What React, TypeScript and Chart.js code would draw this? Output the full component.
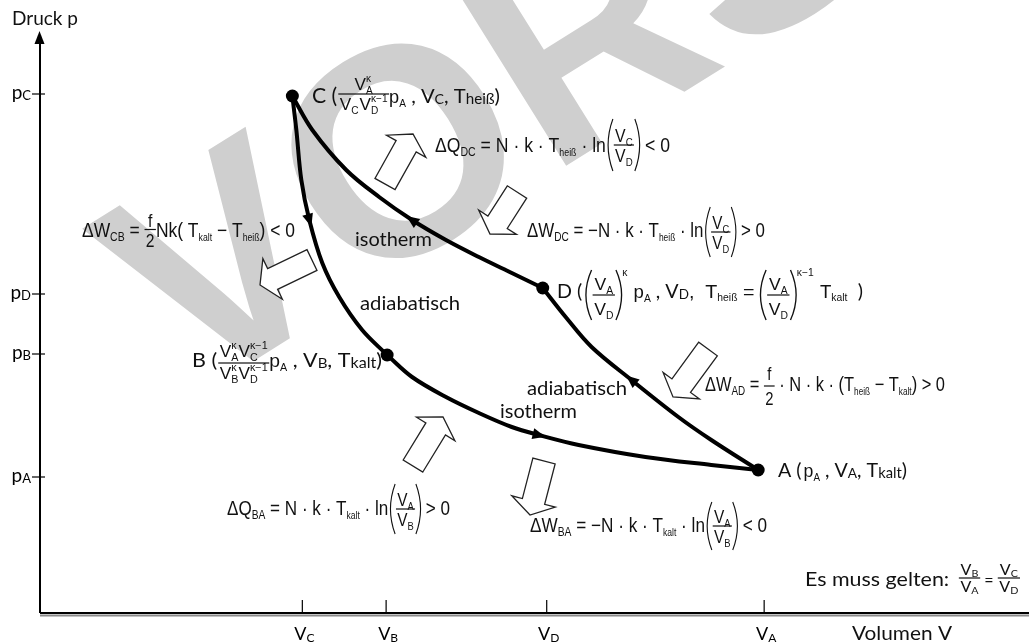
import React, { useEffect, useRef } from "react";
import { Chart, registerables } from "chart.js";

Chart.register(...registerables);

// ---------------- data (arbitrary units) ----------------
const volumeTickNames = ["C", "B", "D", "A"];
const volumeTickValues = [26.3, 34.7, 50.8, 72.6];
const pressureTickNames = ["C", "D", "B", "A"];
const pressureTickValues = [51.9, 31.9, 25.9, 13.6];

const stateNames = ["A", "B", "C", "D"];
const stateVolume = [72.0, 34.8, 25.3, 50.4];
const statePressure = [14.3, 25.8, 51.7, 32.5];

// isotherm T_heiß : C – D
const hotIsothermV = [25.3, 27.3, 30.7, 34.0, 37.3, 40.7, 44.0, 47.3, 50.4];
const hotIsothermP = [51.7, 48.3, 44.3, 41.6, 39.3, 37.3, 35.6, 34.0, 32.5];
// adiabat C – B
const adiabatCBV = [25.3, 25.7, 26.2, 27.0, 28.3, 30.0, 32.3, 34.8];
const adiabatCBP = [51.7, 48.3, 43.3, 39.3, 35.0, 31.6, 28.3, 25.8];
// isotherm T_kalt : B – A
const coldIsothermV = [34.8, 37.3, 40.7, 44.0, 47.3, 50.0, 54.0, 60.7, 67.3, 72.0];
const coldIsothermP = [25.8, 23.6, 21.6, 20.0, 18.6, 17.8, 16.8, 15.6, 14.8, 14.3];
// adiabat D – A
const adiabatDAV = [50.4, 52.7, 55.3, 59.3, 64.0, 67.3, 72.0];
const adiabatDAP = [32.5, 29.6, 26.6, 23.3, 19.6, 17.3, 14.3];

// direction markers: curve index, point index, step toward next point
const flowCurve = [1, 0, 3, 2];
const flowPoint = [3, 4, 3, 5];
const flowStep = [1, -1, -1, 1];

const WATERMARK = "VORSCHAU";

// ---------------- styles / layout ----------------
const FA = '"Liberation Sans", Arial, sans-serif';
const FC = 'Lato, "Open Sans", sans-serif';

const t = (text: string, s = 20, f = FA, dy = 0) => ({ k: "t", t: text, s, f, dy });
const sb = (text: string, s = 11, dy = 4, f = FA) => ({ k: "t", t: text, s, f, dy });
const sp = (w: number) => ({ k: "sp", w });
const ss = (sup: any[], sub: any[]) => ({ k: "ss", sup, sub });
const fr = (n: any[], d: any[], axis: number, nb: number, db: number) => ({ k: "fr", n, d, axis, nb, db });
const pa = (side: string, h: number, axis: number, w = 7) => ({ k: "pa", side, h, axis, w });

const lnFrac = (a: string, b: string, axis: number, h: number) => [
  t(" · ln", 20),
  sp(2),
  pa("(", h, axis),
  fr([t("V", 18), sb(a, 11, 4)], [t("V", 18), sb(b, 11, 4)], axis, -3, 17),
  pa(")", h, axis),
];

const dQDC = [t("ΔQ"), sb("DC", 12, 4), t(" = N · k · T"), sb("heiß", 10, 4), ...lnFrac("C", "D", 7, 26), t(" < 0")];
const dWDC = [t("ΔW"), sb("DC", 12, 4), t(" = −N · k · T"), sb("heiß", 10, 4), ...lnFrac("C", "D", 5, 25), t(" > 0")];
const dWCB = [
  t("ΔW"), sb("CB", 12, 4), t(" = "),
  fr([t("f", 18)], [t("2", 18)], 7.5, -2.5, 17.5),
  t("Nk( T"), sb("kalt", 10, 4), t(" − T"), sb("heiß", 10, 4), t(") < 0"),
];
const dWAD = [
  t("ΔW"), sb("AD", 12, 4), t(" = "),
  fr([t("f", 18)], [t("2", 18)], 5, -6, 19),
  t(" · N · k · (T"), sb("heiß", 10, 4), t(" − T"), sb("kalt", 10, 4), t(") > 0"),
];
const dQBA = [t("ΔQ"), sb("BA", 12, 4), t(" = N · k · T"), sb("kalt", 10, 4), ...lnFrac("A", "B", 6, 25), t(" > 0")];
const dWBA = [t("ΔW"), sb("BA", 12, 4), t(" = −N · k · T"), sb("kalt", 10, 4), ...lnFrac("A", "B", 6, 24), t(" < 0")];

const kap = (sub: string, sup = "κ") => ss([t(sup, 10, FA, -8)], [t(sub, 10, FA, 4)]);

const labelC = [
  t("C (", 21, FC), sp(1),
  fr([t("V", 17), kap("A")], [t("V", 17), sb("C", 10, 4), sp(1), t("V", 17), kap("D", "κ−1")], 9, -4, 16),
  t("p", 18), sb("A", 10, 4), t(" , V", 20, FC), t("C", 14, FC, 1), t(", T", 20, FC), t("heiß", 15, FC, 1), t(")", 20, FC),
];
const vaOverVd = () => fr([t("V", 17), sb("A", 10, 4)], [t("V", 17), sb("D", 10, 4)], 3, -5, 20);
const labelD = [
  t("D (", 19, FC), sp(3),
  pa("(", 25, 3), vaOverVd(), pa(")", 25, 3), t("κ", 10, FA, -22), sp(6),
  t("p", 18), sb("A", 10, 4), t(" , V", 19, FC), t("D", 13, FC, 1), t(",  T", 19, FA), sb("heiß", 10, 3), t(" = ", 19),
  pa("(", 25, 3), vaOverVd(), pa(")", 25, 3), t("κ−1", 10, FA, -22), sp(6),
  t("T", 18), sb("kalt", 10, 3), sp(10), t(")", 19, FC),
];
const labelB = [
  t("B (", 20, FC), sp(1),
  fr(
    [t("V", 16), kap("A"), t("V", 16), kap("C", "κ−1")],
    [t("V", 16), kap("B"), t("V", 16), kap("D", "κ−1")],
    4, -6, 16
  ),
  t("p", 18), sb("A", 10, 4), t(" , V", 20, FC), t("B", 14, FC, 1), t(", T", 20, FC), t("kalt", 15, FC, 1), t(")", 20, FC),
];
const labelA = [
  t("A (", 20, FC), sp(2), t("p", 18), sb("A", 10, 4), t(" , V", 20, FC), t("A", 14, FC, 1), t(", T", 20, FC), t("kalt", 15, FC, 1), t(")", 20, FC),
];
const condition = [
  t("Es muss gelten:", 20, FC), sp(9),
  fr([t("V", 15, FC), t("B", 10, FC, 2)], [t("V", 15, FC), t("A", 10, FC, 2)], 8, -3, 14),
  t(" = ", 15, FC),
  fr([t("V", 15, FC), t("C", 10, FC, 2)], [t("V", 15, FC), t("D", 10, FC, 2)], 8, -3, 14),
];

const textBlocks = [
  { x0: 435, x1: 670, y: 152, nodes: dQDC },
  { x0: 527, x1: 765, y: 237, nodes: dWDC },
  { x0: 82, x1: 295, y: 237, nodes: dWCB },
  { x0: 705, x1: 945, y: 391, nodes: dWAD },
  { x0: 227, x1: 450, y: 515, nodes: dQBA },
  { x0: 530, x1: 767, y: 532, nodes: dWBA },
  { x0: 312, x1: 500, y: 103, nodes: labelC },
  { x0: 557, x1: 863, y: 298, nodes: labelD },
  { x0: 192, x1: 382, y: 367, nodes: labelB },
  { x0: 778, x1: 907, y: 477, nodes: labelA },
  { x0: 805, x1: 1020, y: 586, nodes: condition },
  { x0: 355, x1: 432, y: 246, nodes: [t("isotherm", 19, FC)] },
  { x0: 360, x1: 460, y: 310, nodes: [t("adiabatisch", 19, FC)] },
  { x0: 527, x1: 627, y: 395, nodes: [t("adiabatisch", 19, FC)] },
  { x0: 500, x1: 577, y: 418, nodes: [t("isotherm", 19, FC)] },
  { x0: 12, x1: 78, y: 25, nodes: [t("Druck p", 19, FC)] },
  { x0: 852, x1: 952, y: 640, nodes: [t("Volumen V", 19, FC)] },
];

// hollow block arrows: tail x, tail y, tip x, tip y (pixels)
const blockArrows = [
  [385, 184, 413, 134],
  [517, 192, 490, 234],
  [312, 260, 260, 285],
  [708, 349, 673, 397],
  [413, 466, 443, 417],
  [544, 461, 530, 515],
];

// ---------------- drawing helpers ----------------
function layout(ctx: CanvasRenderingContext2D, nodes: any[], x: number, y: number, draw: boolean): number {
  let cx = x;
  for (const n of nodes) {
    if (n.k === "t") {
      ctx.font = `${n.s}px ${n.f}`;
      if (draw) ctx.fillText(n.t, cx, y + (n.dy || 0));
      cx += ctx.measureText(n.t).width;
    } else if (n.k === "sp") {
      cx += n.w;
    } else if (n.k === "ss") {
      const w1 = layout(ctx, n.sup, cx, y, draw);
      const w2 = layout(ctx, n.sub, cx, y, draw);
      cx += Math.max(w1, w2);
    } else if (n.k === "fr") {
      const wn = layout(ctx, n.n, 0, 0, false);
      const wd = layout(ctx, n.d, 0, 0, false);
      const w = Math.max(wn, wd) + 3;
      const by = y - n.axis;
      if (draw) {
        layout(ctx, n.n, cx + (w - wn) / 2, by + n.nb, true);
        layout(ctx, n.d, cx + (w - wd) / 2, by + n.db, true);
        ctx.fillRect(cx, by - 0.6, w, 1.2);
      }
      cx += w;
    } else if (n.k === "pa") {
      const w = n.w;
      if (draw) {
        const cy = y - n.axis;
        const h = n.h;
        ctx.beginPath();
        if (n.side === "(") {
          ctx.moveTo(cx + w - 1, cy - h);
          ctx.quadraticCurveTo(cx - w * 0.7, cy, cx + w - 1, cy + h);
        } else {
          ctx.moveTo(cx + 1, cy - h);
          ctx.quadraticCurveTo(cx + w * 1.7, cy, cx + 1, cy + h);
        }
        ctx.lineWidth = 1.3;
        ctx.stroke();
      }
      cx += w;
    }
  }
  return cx - x;
}

function drawBlock(ctx: CanvasRenderingContext2D, nodes: any[], x0: number, y: number, x1?: number) {
  const w = layout(ctx, nodes, 0, 0, false);
  ctx.save();
  ctx.translate(x0, y);
  if (x1 != null) ctx.scale((x1 - x0) / w, 1);
  layout(ctx, nodes, 0, 0, true);
  ctx.restore();
}

function blockArrow(ctx: CanvasRenderingContext2D, x0: number, y0: number, x1: number, y1: number) {
  const shaftW = 23, headW = 45, headL = 14;
  const dx = x1 - x0, dy = y1 - y0;
  const L = Math.hypot(dx, dy);
  const ux = dx / L, uy = dy / L;
  const nx = -uy, ny = ux;
  const bx = x1 - ux * headL, by = y1 - uy * headL;
  const pts = [
    [x0 + (nx * shaftW) / 2, y0 + (ny * shaftW) / 2],
    [bx + (nx * shaftW) / 2, by + (ny * shaftW) / 2],
    [bx + (nx * headW) / 2, by + (ny * headW) / 2],
    [x1, y1],
    [bx - (nx * headW) / 2, by - (ny * headW) / 2],
    [bx - (nx * shaftW) / 2, by - (ny * shaftW) / 2],
    [x0 - (nx * shaftW) / 2, y0 - (ny * shaftW) / 2],
  ];
  ctx.beginPath();
  pts.forEach((p, i) => (i ? ctx.lineTo(p[0], p[1]) : ctx.moveTo(p[0], p[1])));
  ctx.closePath();
  ctx.fillStyle = "#fff";
  ctx.fill();
  ctx.lineWidth = 1.3;
  ctx.strokeStyle = "#222";
  ctx.lineJoin = "miter";
  ctx.stroke();
}

const curveV = [hotIsothermV, adiabatCBV, coldIsothermV, adiabatDAV];
const curveP = [hotIsothermP, adiabatCBP, coldIsothermP, adiabatDAP];

const diagramPlugin = {
  id: "diagram",
  beforeDatasetsDraw(chart: any) {
    const ctx: CanvasRenderingContext2D = chart.ctx;
    ctx.save();
    ctx.fillStyle = "#cfcfcf";
    ctx.font = 'bold 295px "Liberation Sans", Arial, sans-serif';
    ctx.translate(188, 402);
    ctx.rotate((-32 * Math.PI) / 180);
    ctx.fillText(WATERMARK, 0, 0);
    ctx.restore();
  },
  afterDatasetsDraw(chart: any) {
    const ctx: CanvasRenderingContext2D = chart.ctx;
    const xs = chart.scales.x, ys = chart.scales.y;
    const area = chart.chartArea;
    ctx.save();
    ctx.strokeStyle = "#000";
    ctx.fillStyle = "#000";

    // x axis with shadow
    ctx.lineWidth = 2;
    ctx.strokeStyle = "#8a8a8a";
    ctx.beginPath();
    ctx.moveTo(area.left, area.bottom + 2.5);
    ctx.lineTo(chart.width, area.bottom + 2.5);
    ctx.stroke();
    ctx.strokeStyle = "#000";
    ctx.beginPath();
    ctx.moveTo(area.left, area.bottom);
    ctx.lineTo(chart.width, area.bottom);
    ctx.stroke();
    // y axis
    ctx.beginPath();
    ctx.moveTo(area.left, area.bottom);
    ctx.lineTo(area.left, area.top + 12);
    ctx.stroke();
    ctx.beginPath();
    ctx.moveTo(area.left - 0.5, area.top + 1);
    ctx.lineTo(area.left - 5.5, area.top + 14);
    ctx.lineTo(area.left + 4.5, area.top + 14);
    ctx.closePath();
    ctx.fill();

    // ticks + labels
    ctx.lineWidth = 1.2;
    volumeTickValues.forEach((v, i) => {
      const x = xs.getPixelForValue(v);
      ctx.beginPath();
      ctx.moveTo(x, area.bottom - 13);
      ctx.lineTo(x, area.bottom);
      ctx.stroke();
      const nodes = [t("V", 18, FC), t(volumeTickNames[i], 12, FC, 2)];
      const w = layout(ctx, nodes, 0, 0, false);
      drawBlock(ctx, nodes, x - w / 2 + 2, 640);
    });
    pressureTickValues.forEach((p, i) => {
      const y = ys.getPixelForValue(p);
      ctx.beginPath();
      ctx.moveTo(area.left - 8, y);
      ctx.lineTo(area.left + 5, y);
      ctx.stroke();
      const nodes = [t("p", 19, FC), t(pressureTickNames[i], 13, FC, 1)];
      const w = layout(ctx, nodes, 0, 0, false);
      drawBlock(ctx, nodes, area.left - 9 - w, y + 5);
    });

    // direction markers on the curves
    flowCurve.forEach((c, i) => {
      const vv = curveV[c], pp = curveP[c];
      const j = flowPoint[i], k = j + flowStep[i];
      const x0 = xs.getPixelForValue(vv[j]), y0 = ys.getPixelForValue(pp[j]);
      const x1 = xs.getPixelForValue(vv[k]), y1 = ys.getPixelForValue(pp[k]);
      const a = Math.atan2(y1 - y0, x1 - x0);
      ctx.save();
      ctx.translate(x0, y0);
      ctx.rotate(a);
      ctx.beginPath();
      ctx.moveTo(7, 0);
      ctx.lineTo(-6, -5.5);
      ctx.lineTo(-6, 5.5);
      ctx.closePath();
      ctx.fill();
      ctx.restore();
    });

    // hollow block arrows
    blockArrows.forEach((b) => blockArrow(ctx, b[0], b[1], b[2], b[3]));

    // texts
    ctx.fillStyle = "#111";
    ctx.strokeStyle = "#111";
    ctx.textBaseline = "alphabetic";
    ctx.textAlign = "left";
    textBlocks.forEach((b) => drawBlock(ctx, b.nodes, b.x0, b.y, b.x1));
    ctx.restore();
  },
};

export default function App() {
  const ref = useRef<HTMLCanvasElement | null>(null);
  useEffect(() => {
    if (!ref.current) return;
    const curveDatasets = curveV.map((vv, c) => ({
      label: "curve" + c,
      data: vv.map((v, i) => ({ x: v, y: curveP[c][i] })),
      showLine: true,
      borderColor: "#000",
      borderWidth: 4,
      borderCapStyle: "round",
      borderJoinStyle: "round",
      pointRadius: 0,
      tension: 0.35,
      fill: false,
    }));
    const chart = new Chart(ref.current, {
      type: "scatter",
      data: {
        datasets: [
          {
            label: "Zustände",
            data: stateNames.map((_, i) => ({ x: stateVolume[i], y: statePressure[i] })),
            pointRadius: 6.5,
            pointBackgroundColor: "#000",
            pointBorderWidth: 0,
            showLine: false,
          },
          ...curveDatasets,
        ] as any,
      },
      options: {
        responsive: false,
        animation: false,
        devicePixelRatio: 1,
        events: [],
        layout: { padding: { left: 40, right: 4, top: 30, bottom: 31 } },
        scales: {
          x: { type: "linear", min: 0, max: 98.5, display: false },
          y: { type: "linear", min: 0, max: 58.3, display: false },
        },
        plugins: { legend: { display: false }, tooltip: { enabled: false } },
      } as any,
      plugins: [diagramPlugin],
    });
    return () => chart.destroy();
  }, []);
  return (
    <div style={{ position: "fixed", left: 0, top: 0, width: 1029, height: 644, background: "#fff" }}>
      <canvas ref={ref} width={1029} height={644} style={{ display: "block" }} />
    </div>
  );
}
